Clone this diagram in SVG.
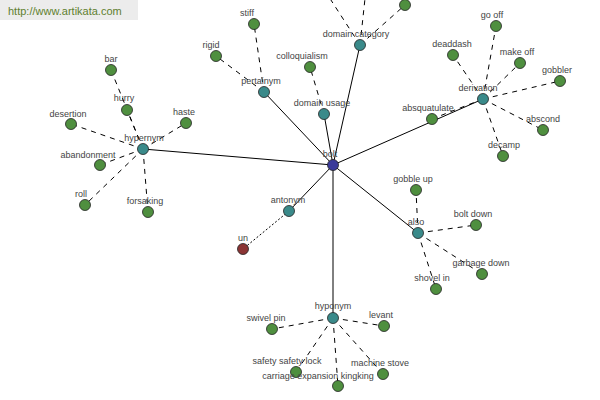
<svg xmlns="http://www.w3.org/2000/svg" width="600" height="400" viewBox="0 0 600 400">
<style>
text{font-family:"Liberation Sans",Arial,sans-serif;font-size:9px;fill:#444;text-anchor:middle}
.s{stroke:#000;stroke-width:1;fill:none}
.d{stroke:#000;stroke-width:1;fill:none;stroke-dasharray:5,5}
.o{stroke:#000;stroke-width:1;fill:none;stroke-dasharray:2,2}
circle{stroke:#222;stroke-width:0.8}
.c{fill:#4f8f3f}
.r{fill:#3a8a8a}
.m{fill:#3a3a9a}
.a{fill:#8b3535}
</style>
<rect x="0" y="0" width="138" height="20" fill="#ececec"/>
<text x="8" y="15" style="text-anchor:start;font-size:11px;fill:#5f7f2f">http://www.artikata.com</text>
<g id="connectors">
<line class="s" x1="333" y1="165" x2="143" y2="149"/>
<line class="s" x1="333" y1="165" x2="264" y2="92"/>
<line class="s" x1="333" y1="165" x2="324" y2="114"/>
<line class="s" x1="333" y1="165" x2="360" y2="45"/>
<line class="s" x1="333" y1="165" x2="483" y2="99"/>
<line class="s" x1="333" y1="165" x2="289" y2="211"/>
<line class="s" x1="333" y1="165" x2="418" y2="233"/>
<line class="s" x1="333" y1="165" x2="333" y2="318"/>
<line class="d" x1="143" y1="149" x2="111" y2="70"/>
<line class="d" x1="143" y1="149" x2="127" y2="110"/>
<line class="d" x1="143" y1="149" x2="186" y2="123"/>
<line class="d" x1="143" y1="149" x2="71" y2="124"/>
<line class="d" x1="143" y1="149" x2="100" y2="165"/>
<line class="d" x1="143" y1="149" x2="85" y2="205"/>
<line class="d" x1="143" y1="149" x2="148" y2="212"/>
<line class="d" x1="264" y1="92" x2="254" y2="24"/>
<line class="d" x1="264" y1="92" x2="216" y2="56"/>
<line class="d" x1="324" y1="114" x2="310" y2="67"/>
<line class="d" x1="360" y1="45" x2="318" y2="-20"/>
<line class="d" x1="360" y1="45" x2="367" y2="-20"/>
<line class="d" x1="360" y1="45" x2="405" y2="5"/>
<line class="d" x1="483" y1="99" x2="496" y2="26"/>
<line class="d" x1="483" y1="99" x2="453" y2="55"/>
<line class="d" x1="483" y1="99" x2="520" y2="63"/>
<line class="d" x1="483" y1="99" x2="560" y2="81"/>
<line class="d" x1="483" y1="99" x2="543" y2="130"/>
<line class="d" x1="483" y1="99" x2="503" y2="156"/>
<line class="d" x1="483" y1="99" x2="432" y2="119"/>
<line class="o" x1="289" y1="211" x2="243" y2="249"/>
<line class="d" x1="418" y1="233" x2="416" y2="190"/>
<line class="d" x1="418" y1="233" x2="476" y2="225"/>
<line class="d" x1="418" y1="233" x2="482" y2="274"/>
<line class="d" x1="418" y1="233" x2="436" y2="289"/>
<line class="d" x1="333" y1="318" x2="272" y2="329"/>
<line class="d" x1="333" y1="318" x2="384" y2="326"/>
<line class="d" x1="333" y1="318" x2="296" y2="372"/>
<line class="d" x1="333" y1="318" x2="338" y2="386"/>
<line class="d" x1="333" y1="318" x2="383" y2="374"/>
</g>
<g id="n-bar"><circle class="c" cx="111" cy="70" r="5.5"/><text x="111" y="62">bar</text></g>
<g id="n-hurry"><circle class="c" cx="127" cy="110" r="5.5"/><text x="124" y="101">hurry</text></g>
<g id="n-haste"><circle class="c" cx="186" cy="123" r="5.5"/><text x="184" y="115">haste</text></g>
<g id="n-desertion"><circle class="c" cx="71" cy="124" r="5.5"/><text x="68" y="117">desertion</text></g>
<g id="n-abandonment"><circle class="c" cx="100" cy="165" r="5.5"/><text x="88" y="158">abandonment</text></g>
<g id="n-roll"><circle class="c" cx="85" cy="205" r="5.5"/><text x="81" y="197">roll</text></g>
<g id="n-forsaking"><circle class="c" cx="148" cy="212" r="5.5"/><text x="145" y="204">forsaking</text></g>
<g id="n-hypernym"><circle class="r" cx="143" cy="149" r="5.5"/><text x="144" y="141">hypernym</text></g>
<g id="n-stiff"><circle class="c" cx="254" cy="24" r="5.5"/><text x="247" y="16">stiff</text></g>
<g id="n-rigid"><circle class="c" cx="216" cy="56" r="5.5"/><text x="211" y="48">rigid</text></g>
<g id="n-pertainym"><circle class="r" cx="264" cy="92" r="5.5"/><text x="261" y="84">pertainym</text></g>
<g id="n-colloquialism"><circle class="c" cx="310" cy="67" r="5.5"/><text x="302" y="59">colloquialism</text></g>
<g id="n-domainusage"><circle class="r" cx="324" cy="114" r="5.5"/><text x="322" y="106">domain usage</text></g>
<g id="n-top"><circle class="c" cx="405" cy="5" r="5.5"/></g>
<g id="n-domaincategory"><circle class="r" cx="360" cy="45" r="5.5"/><text x="356" y="37">domain category</text></g>
<g id="n-gooff"><circle class="c" cx="496" cy="26" r="5.5"/><text x="492" y="18">go off</text></g>
<g id="n-deaddash"><circle class="c" cx="453" cy="55" r="5.5"/><text x="452" y="47">deaddash</text></g>
<g id="n-makeoff"><circle class="c" cx="520" cy="63" r="5.5"/><text x="517" y="55">make off</text></g>
<g id="n-gobbler"><circle class="c" cx="560" cy="81" r="5.5"/><text x="557" y="73">gobbler</text></g>
<g id="n-abscond"><circle class="c" cx="543" cy="130" r="5.5"/><text x="543" y="122">abscond</text></g>
<g id="n-decamp"><circle class="c" cx="503" cy="156" r="5.5"/><text x="504" y="148">decamp</text></g>
<g id="n-absquatulate"><circle class="c" cx="432" cy="119" r="5.5"/><text x="428" y="111">absquatulate</text></g>
<g id="n-derivation"><circle class="r" cx="483" cy="99" r="5.5"/><text x="478" y="91">derivation</text></g>
<g id="n-un"><circle class="a" cx="243" cy="249" r="5.5"/><text x="243" y="241">un</text></g>
<g id="n-antonym"><circle class="r" cx="289" cy="211" r="5.5"/><text x="288" y="203">antonym</text></g>
<g id="n-gobbleup"><circle class="c" cx="416" cy="190" r="5.5"/><text x="413" y="182">gobble up</text></g>
<g id="n-boltdown"><circle class="c" cx="476" cy="225" r="5.5"/><text x="473" y="217">bolt down</text></g>
<g id="n-garbagedown"><circle class="c" cx="482" cy="274" r="5.5"/><text x="481" y="266">garbage down</text></g>
<g id="n-shovelin"><circle class="c" cx="436" cy="289" r="5.5"/><text x="432" y="281">shovel in</text></g>
<g id="n-also"><circle class="r" cx="418" cy="233" r="5.5"/><text x="416" y="225">also</text></g>
<g id="n-swivelpin"><circle class="c" cx="272" cy="329" r="5.5"/><text x="266" y="321">swivel pin</text></g>
<g id="n-levant"><circle class="c" cx="384" cy="326" r="5.5"/><text x="381" y="318">levant</text></g>
<g id="n-safety"><circle class="c" cx="296" cy="372" r="5.5"/><text x="287" y="364">safety safety lock</text></g>
<g id="n-carriage"><circle class="c" cx="338" cy="386" r="5.5"/><text x="318" y="379">carriage expansion kingking</text></g>
<g id="n-machine"><circle class="c" cx="383" cy="374" r="5.5"/><text x="380" y="366">machine stove</text></g>
<g id="n-hyponym"><circle class="r" cx="333" cy="318" r="5.5"/><text x="333" y="309">hyponym</text></g>
<g id="n-bolt"><circle class="m" cx="333" cy="165" r="5.5"/><text x="330" y="157">bolt</text></g>
</svg>
